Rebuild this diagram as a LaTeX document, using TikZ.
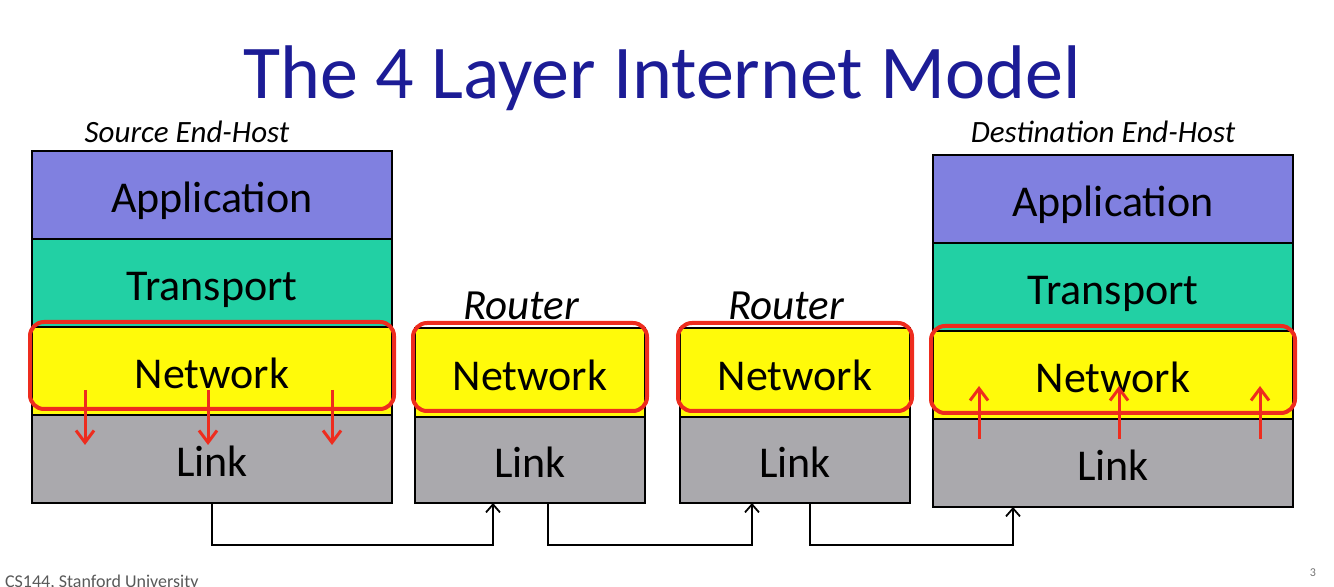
\documentclass[tikz,border=0pt]{standalone}
\usepackage{fontspec}
\setmainfont{Carlito}
\usetikzlibrary{calc,arrows.meta}

\definecolor{titleblue}{RGB}{28,28,150}
\definecolor{appcol}{RGB}{128,128,224}
\definecolor{transcol}{RGB}{34,208,164}
\definecolor{netcol}{RGB}{255,250,10}
\definecolor{linkcol}{RGB}{170,169,173}
\definecolor{hilite}{RGB}{238,44,30}

\begin{document}
\begin{tikzpicture}[x=0.5pt,y=-0.5pt,>={Straight Barb[length=4pt,width=7pt]},
  layer/.style={draw,line width=1pt,inner sep=0pt,outer sep=0pt,anchor=north west,
    text height=20pt,text depth=2pt,font=\fontsize{22}{26}\selectfont},
  host/.style={layer,minimum width=180pt,minimum height=44pt},
  rtr/.style={layer,minimum width=115pt,minimum height=44.5pt},
  hostlabel/.style={anchor=base,font=\fontsize{15.5}{18}\selectfont\itshape},
  rtrlabel/.style={anchor=base,font=\fontsize{21.5}{25}\selectfont\itshape},
  netbox/.style={draw=hilite,line width=2pt,rounded corners=7pt},
  updown/.style={->,hilite,line width=1.5pt,>={Straight Barb[length=6pt,width=9pt]}},
  wire/.style={->,line width=0.9pt}]
\useasboundingbox (0,0) rectangle (1334,587);

\node[anchor=base,text=titleblue,font=\fontsize{38}{44}\selectfont] (title) at (662,99)
  {The 4 Layer Internet Model};

% source end-host
\node[hostlabel] (srclabel) at (187,143) {Source End-Host};
\node[host,fill=appcol] (srcapp) at (32,151) {Application};
\node[host,fill=transcol,anchor=north] (srctrans) at (srcapp.south) {Transport};
\node[host,fill=netcol,anchor=north] (srcnet) at (srctrans.south) {Network};
\node[host,fill=linkcol,anchor=north] (srclink) at (srcnet.south) {Link};

% routers
\node[rtrlabel] (r1label) at (521,320) {Router};
\node[rtr,fill=netcol] (r1net) at (415,328) {Network};
\node[rtr,fill=linkcol,anchor=north,minimum height=43pt] (r1link) at (r1net.south) {Link};

\node[rtrlabel] (r2label) at (786,320) {Router};
\node[rtr,fill=netcol] (r2net) at (680,328) {Network};
\node[rtr,fill=linkcol,anchor=north,minimum height=43pt] (r2link) at (r2net.south) {Link};

% destination end-host
\node[hostlabel] (dstlabel) at (1103,143) {Destination End-Host};
\node[host,fill=appcol] (dstapp) at (933,155) {Application};
\node[host,fill=transcol,anchor=north] (dsttrans) at (dstapp.south) {Transport};
\node[host,fill=netcol,anchor=north] (dstnet) at (dsttrans.south) {Network};
\node[host,fill=linkcol,anchor=north] (dstlink) at (dstnet.south) {Link};

% network layer highlight
\foreach \n in {srcnet,r1net,r2net,dstnet}
  \draw[netbox] ($(\n.north west)+(-2,-5)$) rectangle ($(\n.south east)+(2,-6)$);

\foreach \dx in {-127,-4,120}
  \draw[updown] ($(srcnet.south)+(\dx,-25)$) -- ($(srclink.north)+(\dx,30)$);
\foreach \dx in {-134,6,147}
  \draw[updown] ($(dstlink.north)+(\dx,20)$) -- ($(dstnet.south)+(\dx,-33)$);

% links between hops
\draw[wire] (srclink.south) -- ++(0,42) -| ($(r1link.south)+(-37,0)$);
\draw[wire] ($(r1link.south)+(18,0)$) -- ++(0,42) -| ($(r2link.south)+(-43,0)$);
\draw[wire] ($(r2link.south)+(15,0)$) -- ++(0,42) -| ($(dstlink.south)+(-100,0)$);

\node[anchor=base west,text=black!65,font=\fontsize{9}{11}\selectfont] (foot) at (-2,588)
  {CS144, Stanford University};
\node[anchor=base,text=black!55,font=\fontsize{6}{7}\selectfont] (page) at (1313,576) {3};
\end{tikzpicture}
\end{document}
